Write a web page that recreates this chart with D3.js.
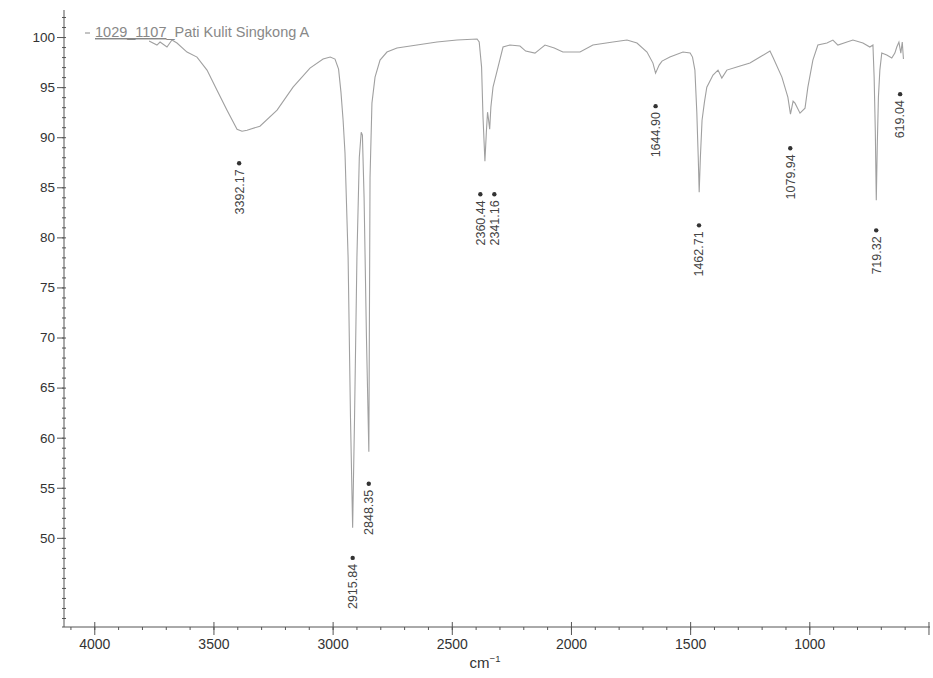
<!DOCTYPE html>
<html>
<head>
<meta charset="utf-8">
<script src="https://cdn.jsdelivr.net/npm/d3@7"></script>
<style>
  body { margin: 0; background: #fff; }
  text { font-family: "Liberation Sans", Arial, sans-serif; }
</style>
</head>
<body>
<script>
// ------------------------------- Data ------------------------------
// IR spectrum, wavenumber (cm-1) and %T
var wavenumbers = [3770, 3737, 3724, 3695, 3674, 3653, 3611, 3569, 3527, 3485, 3443, 3401, 3380, 3359,
  3305, 3233, 3166, 3095, 3040, 3010, 2990, 2975, 2965, 2956, 2948, 2935, 2925, 2916, 2908, 2898,
  2888, 2880, 2875, 2868, 2858, 2848, 2843, 2835, 2822, 2801, 2772, 2730, 2646, 2562, 2478, 2394,
  2385, 2375, 2369, 2361, 2355, 2350, 2346, 2341, 2336, 2327, 2306, 2285, 2256, 2214, 2190, 2151,
  2130, 2109, 2070, 2034, 1962, 1908, 1824, 1765, 1723, 1681, 1656, 1645, 1630, 1618, 1585, 1530,
  1500, 1490, 1480, 1472, 1466, 1462, 1457, 1450, 1440, 1430, 1404, 1383, 1367, 1346, 1304, 1249,
  1207, 1165, 1153, 1115, 1090, 1079, 1068, 1060, 1039, 1018, 1006, 985, 964, 926, 901, 880, 842,
  817, 775, 746, 733, 728, 723, 719, 715, 710, 704, 696, 675, 654, 641, 633, 624, 616, 610, 605];
var transmittance = [99.6, 99.2, 99.5, 99.0, 99.7, 99.4, 98.5, 98.0, 96.7, 94.7, 92.7, 90.8, 90.6, 90.7,
  91.1, 92.7, 95.0, 96.9, 97.8, 98.0, 97.8, 96.8, 94.5, 91.7, 88.4, 78, 62, 51.0, 62, 78,
  88, 90.5, 90.2, 84, 70, 58.6, 86, 93.4, 96.0, 97.7, 98.5, 98.9, 99.2, 99.5, 99.7, 99.8,
  99.5, 97, 92, 87.6, 90.5, 92.5, 91.8, 90.8, 93, 95.0, 97.0, 99.0, 99.2, 99.1, 98.6, 98.4,
  98.8, 99.2, 98.9, 98.5, 98.5, 99.2, 99.5, 99.7, 99.4, 98.5, 97.4, 96.4, 97.2, 97.6, 98.0, 98.5,
  98.4, 98.0, 96.7, 92.5, 88, 84.5, 88, 91.7, 93.5, 95.0, 96.2, 96.7, 95.9, 96.7, 97.0, 97.4,
  98.0, 98.6, 98.0, 96.0, 94.0, 92.3, 93.6, 93.4, 92.4, 92.9, 95.0, 97.7, 99.2, 99.4, 99.7, 99.2, 99.5,
  99.7, 99.4, 99.0, 99.2, 96, 90.5, 83.7, 89, 94, 96.7, 98.4, 98.2, 97.9, 98.4, 99.0, 99.5, 98.4, 99.5, 97.8];

// Peak picks: position label and the %T level of its marker
var peakLabels = ["3392.17", "2915.84", "2848.35", "2360.44", "2341.16", "1644.90", "1462.71", "1079.94", "719.32", "619.04"];
var peakMarkerT = [87.4, 48.0, 55.4, 84.3, 84.3, 93.1, 81.2, 88.9, 80.7, 94.3];

var xTicks = [4000, 3500, 3000, 2500, 2000, 1500, 1000];
var yTicks = [50, 55, 60, 65, 70, 75, 80, 85, 90, 95, 100];
var seriesName = "1029_1107_Pati Kulit Singkong A";

// ------------------------------- Chart ------------------------------
var width = 933;
var height = 678;

var svg = d3.select("body").append("svg")
  .attr("width", width)
  .attr("height", height)
  .style("background", "#fff");

var x = d3.scaleLinear().domain([4127, 502]).range([64, 928]);
var y = d3.scaleLinear().domain([41.1, 102.7]).range([627, 10]);

var axisColor = "#555";

// y axis: minor ticks every 1 %T, majors every 5
var yMinor = svg.append("g")
  .attr("transform", "translate(66,0)")
  .call(d3.axisLeft(y).tickValues(d3.range(42, 103, 1)).tickSize(4).tickFormat(""));
yMinor.select(".domain").remove();

var yAxis = svg.append("g")
  .attr("transform", "translate(64,0)")
  .call(d3.axisLeft(y).tickValues(yTicks).tickSize(7).tickPadding(2).tickSizeOuter(0));
yAxis.select(".domain").attr("d", "M0,10V627");
yAxis.selectAll("text").attr("font-size", 13.5).attr("fill", "#333");

// x axis: minor ticks every 100 cm-1
var xMinor = svg.append("g")
  .attr("transform", "translate(0,627)")
  .call(d3.axisBottom(x).tickValues(d3.range(600, 4101, 100)).tickSize(3).tickFormat(""));
xMinor.select(".domain").remove();

var xAxis = svg.append("g")
  .attr("transform", "translate(0,627)")
  .call(d3.axisBottom(x).tickValues(xTicks.concat([500])).tickSize(8).tickPadding(4).tickSizeOuter(0)
    .tickFormat(function(d) { return d === 500 ? "" : d; }));
xAxis.select(".domain").attr("d", "M62,0H930");
xAxis.selectAll(".tick line").attr("y1", -5);
xAxis.selectAll("text").attr("font-size", 14).attr("fill", "#333");

svg.selectAll(".domain, .tick line").attr("stroke", axisColor);

svg.append("text")
  .attr("x", 485).attr("y", 668)
  .attr("text-anchor", "middle")
  .attr("font-size", 15).attr("fill", "#333")
  .text("cm")
  .append("tspan").attr("dy", -6).attr("font-size", 9.5).text("−1");

// spectrum line
var line = d3.line()
  .x(function(d, i) { return x(wavenumbers[i]); })
  .y(function(d) { return y(d); });

svg.append("path")
  .datum(transmittance)
  .attr("d", line)
  .attr("fill", "none")
  .attr("stroke", "#a0a0a0")
  .attr("stroke-width", 1.1);

// legend / title
svg.append("line")
  .attr("x1", 85).attr("x2", 90).attr("y1", 33).attr("y2", 33)
  .attr("stroke", "#888");
var title = svg.append("text")
  .attr("x", 95).attr("y", 37)
  .attr("font-size", 14.5).attr("fill", "#888");
title.append("tspan").attr("text-decoration", "underline").text(seriesName.slice(0, 9));
title.append("tspan").text(seriesName.slice(9));

// peak labels, pushed apart when two picks sit too close together
var labelX = peakLabels.map(function(d) { return x(+d); });
for (var i = 1; i < labelX.length; i++) {
  var gap = labelX[i] - labelX[i - 1];
  if (gap < 14) {
    var mid = (labelX[i] + labelX[i - 1]) / 2;
    labelX[i - 1] = mid - 7;
    labelX[i] = mid + 7;
  }
}

var peaks = svg.append("g").selectAll("g")
  .data(peakLabels)
  .enter().append("g")
  .attr("transform", function(d, i) { return "translate(" + labelX[i] + "," + y(peakMarkerT[i]) + ")"; });

peaks.append("circle")
  .attr("r", 2.2)
  .attr("fill", "#333");

peaks.append("text")
  .attr("transform", "rotate(-90)")
  .attr("x", -6)
  .attr("y", 0)
  .attr("dy", "0.35em")
  .attr("text-anchor", "end")
  .attr("font-size", 12.5)
  .attr("fill", "#444")
  .text(function(d) { return d; });
</script>
</body>
</html>
